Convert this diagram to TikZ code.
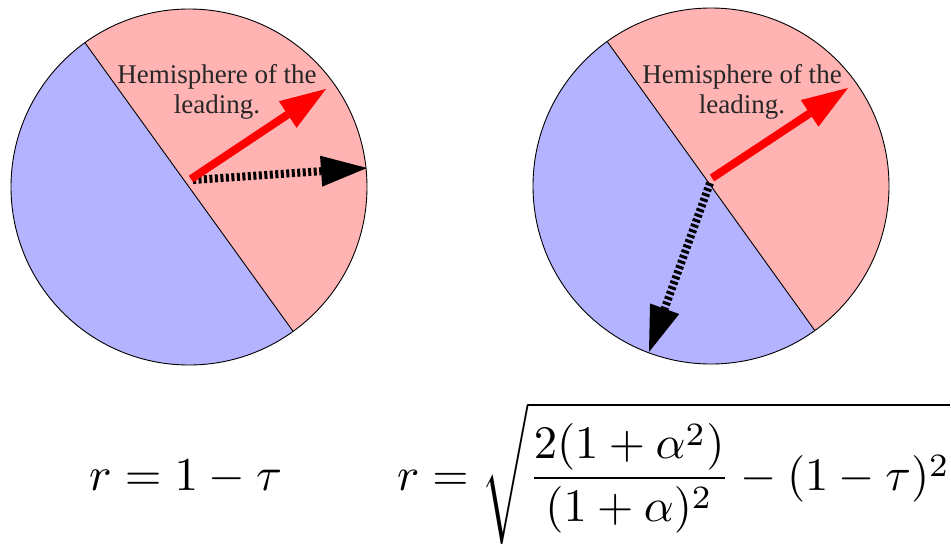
\documentclass[tikz,border=0pt]{standalone}
\usepackage{fontspec}
\newfontfamily\hemifont{Liberation Serif}
\usetikzlibrary{arrows.meta,calc}
\definecolor{pinkhalf}{RGB}{255,179,179}
\definecolor{bluehalf}{RGB}{179,179,255}
\newcommand{\bigmath}[2]{\scalebox{#1}{$\displaystyle #2$}}
\begin{document}
\begin{tikzpicture}[x=1pt,y=-1pt,
  disc/.style={circle, draw=black, line width=0.9pt, minimum size=356pt, inner sep=0pt},
  halfline/.style={draw=black, line width=0.9pt},
  redarrow/.style={draw=red, line width=8pt, -{Triangle[length=46pt,width=32pt,line width=0pt]}},
  blackarrow/.style={draw=black, line width=8pt, dash pattern=on 3pt off 2.5pt, -{Triangle[length=46pt,width=31pt,line width=0pt]}},
  hemilabel/.style={font=\hemifont\fontsize{27}{30}\selectfont, text=black!85, align=center, inner sep=0pt},
  formula/.style={inner sep=0pt}]
\useasboundingbox (0,0) rectangle (951,544);
% ---------- left disc ----------
\coordinate (Lc) at (189,187);
\coordinate (Lu) at ($(Lc)+(-125.8:178)$);
\coordinate (Ld) at ($(Lc)+(54.2:178)$);
\fill[pinkhalf] (Lc) circle[radius=178];
\fill[bluehalf] (Lu) arc[start angle=-125.8, end angle=-305.8, radius=178] -- cycle;
\draw[halfline] (Lu) -- (Ld);
\node[disc] (Ldisc) at (Lc) {};
\node[hemilabel] (Ltext) at (217,92) {Hemisphere of the\\leading.};
\coordinate (Lred0) at (191,179);
\coordinate (Lred1) at (326,89);
\coordinate (Lblk0) at (193,180);
\coordinate (Lblk1) at (367,168);
\draw[blackarrow] (Lblk0) -- (Lblk1);
\draw[redarrow] (Lred0) -- (Lred1);
% ---------- right disc ----------
\coordinate (Rc) at (711,186);
\coordinate (Ru) at ($(Rc)+(-125.7:178)$);
\coordinate (Rd) at ($(Rc)+(54.3:178)$);
\fill[pinkhalf] (Rc) circle[radius=178];
\fill[bluehalf] (Ru) arc[start angle=-125.7, end angle=-305.7, radius=178] -- cycle;
\draw[halfline] (Ru) -- (Rd);
\node[disc] (Rdisc) at (Rc) {};
\node[hemilabel] (Rtext) at (742,92) {Hemisphere of the\\leading.};
\coordinate (Rred0) at (712,178);
\coordinate (Rred1) at (848,88);
\coordinate (Rblk0) at (710,183);
\coordinate (Rblk1) at (649,352);
\draw[blackarrow] (Rblk0) -- (Rblk1);
\draw[redarrow] (Rred0) -- (Rred1);
% ---------- formulas ----------
\node[formula, anchor=base west] (Lform) at (89,490) {\bigmath{4.72}{r = 1 - \tau}};
\node[formula, anchor=base west] (Rform) at (397,490) {\bigmath{4.66}{r = \sqrt{\frac{2(1+\alpha^2)}{(1+\alpha)^2} - (1-\tau)^2}}};
\end{tikzpicture}
\end{document}
